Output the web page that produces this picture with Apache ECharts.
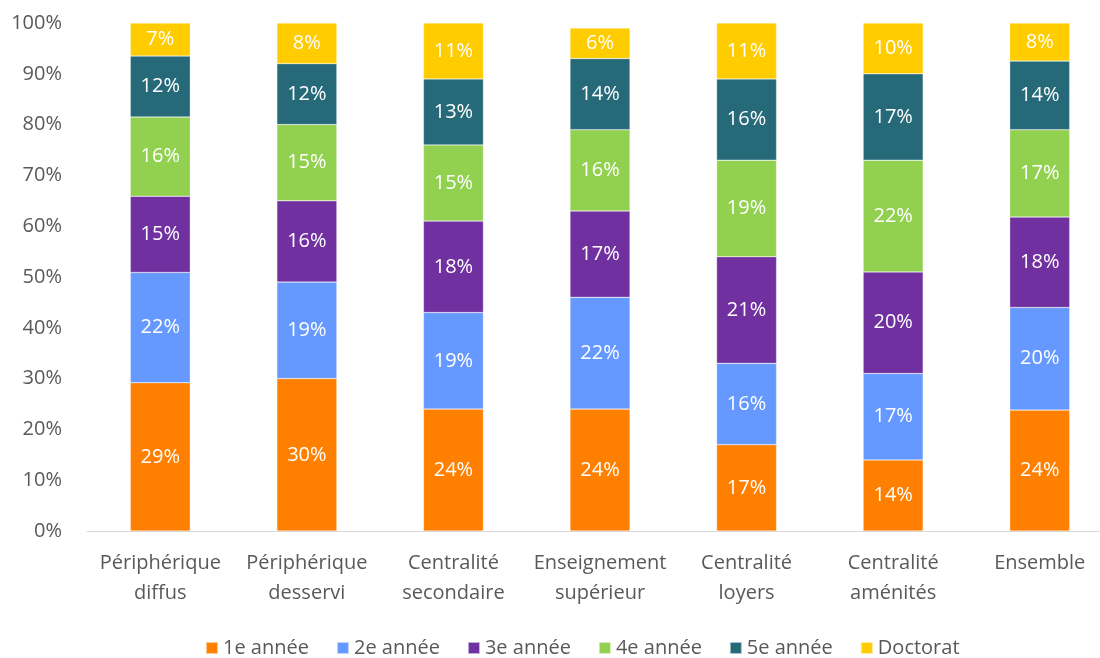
<!DOCTYPE html>
<html><head><meta charset="utf-8">
<script src="https://cdn.jsdelivr.net/npm/echarts@6/dist/echarts.min.js"></script>
<style>html,body{margin:0;padding:0;background:#fff}#c{width:1100px;height:658px}</style>
</head><body><div id="c"></div>
<script>
const categories = ['Périphérique\ndiffus','Périphérique\ndesservi','Centralité\nsecondaire','Enseignement\nsupérieur','Centralité\nloyers','Centralité\naménités','Ensemble'];
const seriesNames = ['1e année','2e année','3e année','4e année','5e année','Doctorat'];
const annee1 = [29.2, 30, 24, 24, 17, 14, 23.8];
const annee2 = [21.7, 19, 19, 22, 16, 17, 20.2];
const annee3 = [15.0, 16, 18, 17, 21, 20, 17.8];
const annee4 = [15.6, 15, 15, 16, 19, 22, 17.2];
const annee5 = [12.0, 12, 13, 14, 16, 17, 13.5];
const doctorat = [6.5, 8, 11, 6, 11, 10, 7.5];
const yTicks = [0,10,20,30,40,50,60,70,80,90,100];
const colors = ['#FF8000','#6699FF','#7030A0','#92D050','#266A79','#FFCC00'];
const allData = [annee1, annee2, annee3, annee4, annee5, doctorat];
const FONT = 'Open Sans';
const chart = echarts.init(document.getElementById('c'));
chart.setOption({
  animation:false,
  textStyle:{fontFamily:FONT},
  grid:{left:87, width:1026, top:23, bottom:127, outerBoundsMode:'none', containLabel:false},
  legend:{top:633, left:200, itemWidth:12, itemHeight:12, itemGap:27, icon:'rect',
    textStyle:{fontSize:20, color:'#595959', fontFamily:FONT}, data:seriesNames},
  xAxis:{type:'category', data:categories,
    axisLine:{lineStyle:{color:'#D9D9D9', width:1}}, axisTick:{show:false},
    axisLabel:{color:'#595959', fontSize:20, lineHeight:30, margin:17, interval:0, fontFamily:FONT}},
  yAxis:{type:'value', min:0, max:100, interval:10,
    axisLine:{show:false}, axisTick:{show:false}, splitLine:{show:false},
    axisLabel:{color:'#595959', fontSize:20, margin:25, fontFamily:FONT, formatter:v=>v+'%'}},
  series: allData.map((d,i)=>({
    name:seriesNames[i], type:'bar', stack:'s', barWidth:60,
    itemStyle:{color:colors[i], borderColor:'rgba(255,255,255,0.6)', borderWidth:0.5},
    label:{show:true, position:'inside', color:'#fff', fontSize:20, fontFamily:FONT,
      formatter:p=>Math.round(p.value)+'%'},
    data:d
  }))
});
</script></body></html>
